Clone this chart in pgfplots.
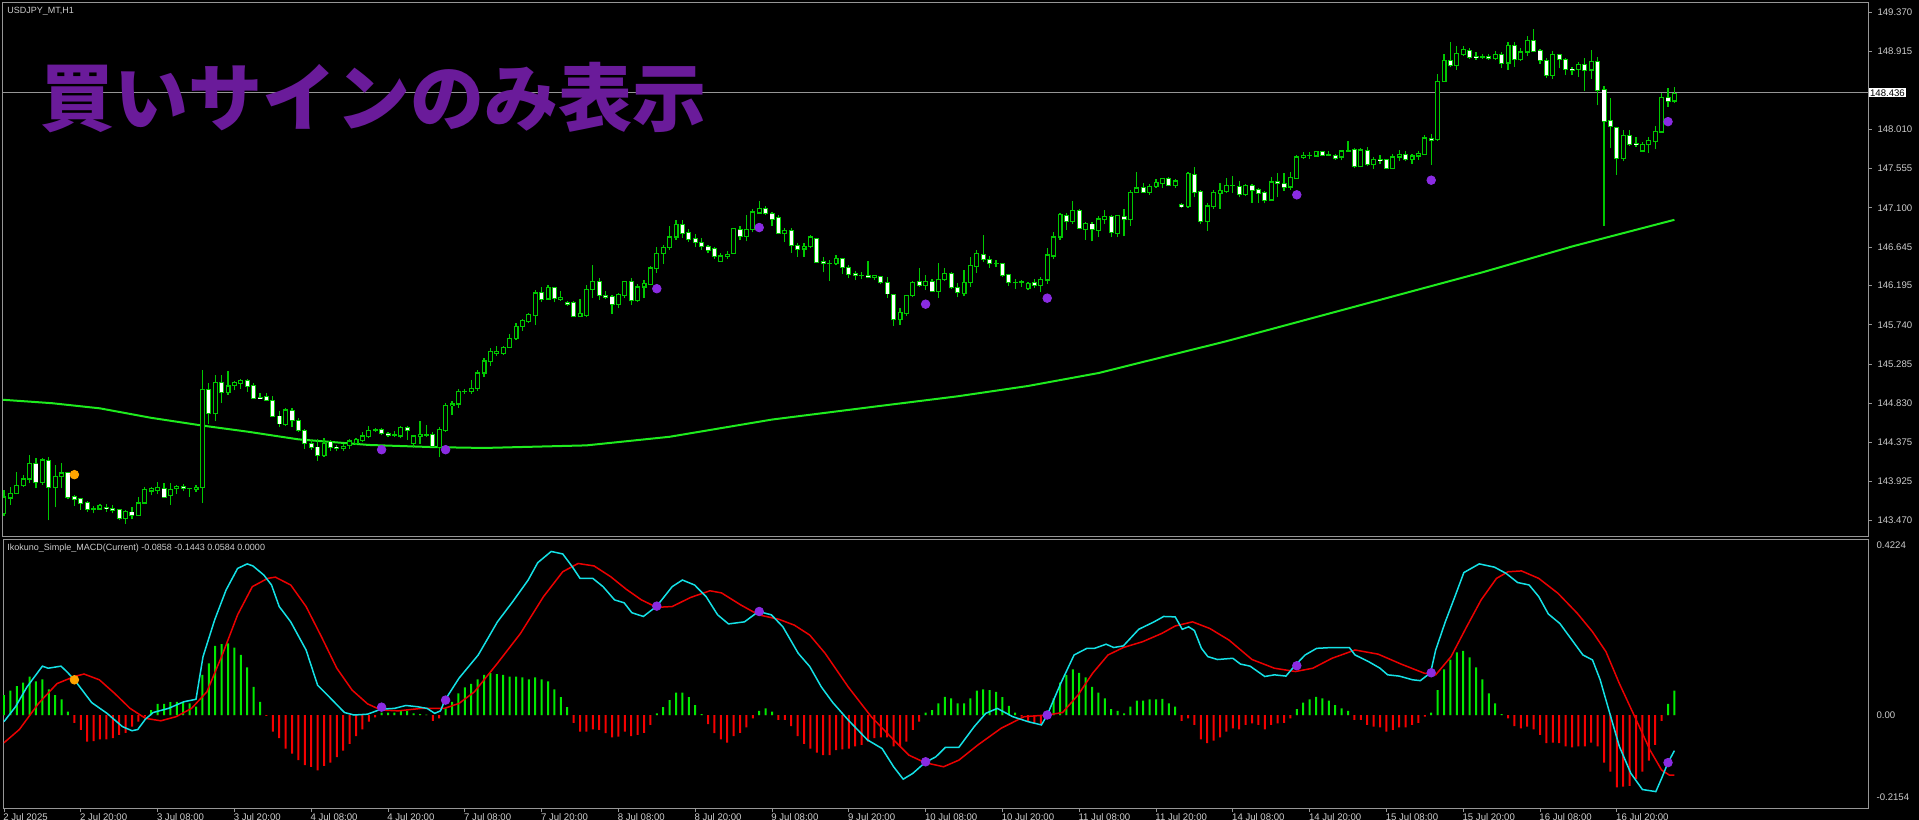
\documentclass[border=0pt]{standalone}
\usepackage{fontspec}
\usepackage{pgfplots}
\usepackage{pgfplotstable}
\pgfplotsset{compat=1.18}
\setmainfont{Liberation Sans}
\newfontfamily\cjk{Noto Sans CJK JP}

\definecolor{cgreen}{RGB}{0,200,0}
\definecolor{magreen}{RGB}{30,235,30}
\definecolor{hgreen}{RGB}{0,235,0}
\definecolor{hred}{RGB}{245,0,0}
\definecolor{mcyan}{RGB}{20,225,230}
\definecolor{sred}{RGB}{235,0,0}
\definecolor{sigpurple}{RGB}{138,43,226}
\definecolor{sigorange}{RGB}{255,165,0}
\definecolor{framegray}{RGB}{150,150,150}
\definecolor{labelgray}{RGB}{205,205,205}
\definecolor{titlepurple}{RGB}{106,27,154}

% USDJPY H1 candles, bar 0 = 2 Jul 08:00
\pgfplotstableread{
i o h l c
0 143.55 143.82 143.52 143.74
1 143.73 143.86 143.65 143.78
2 143.78 144.03 143.77 143.87
3 143.87 144.00 143.86 143.95
4 143.95 144.23 143.90 144.13
5 144.13 144.19 143.84 143.91
6 143.91 144.19 143.88 144.17
7 144.16 144.20 143.47 143.85
8 143.85 144.11 143.62 143.98
9 143.98 144.13 143.84 144.02
10 144.02 144.03 143.72 143.74
11 143.74 143.76 143.64 143.71
12 143.72 143.73 143.59 143.67
13 143.675 143.69 143.57 143.60
14 143.60 143.64 143.55 143.60
15 143.60 143.66 143.59 143.64
16 143.62 143.66 143.57 143.61
17 143.61 143.65 143.55 143.59
18 143.59 143.60 143.47 143.49
19 143.49 143.59 143.43 143.57
20 143.565 143.62 143.48 143.53
21 143.53 143.74 143.52 143.67
22 143.67 143.86 143.66 143.83
23 143.81 143.86 143.76 143.84
24 143.82 143.91 143.77 143.85
25 143.84 143.90 143.73 143.74
26 143.76 143.90 143.65 143.83
27 143.84 143.88 143.77 143.86
28 143.86 143.89 143.81 143.84
29 143.84 143.85 143.74 143.84
30 143.83 143.88 143.80 143.85
31 143.85 145.21 143.67 144.99
32 144.99 145.07 144.59 144.71
33 144.71 145.16 144.62 145.07
34 145.07 145.16 144.83 144.96
35 144.95 145.20 144.93 145.03
36 145.04 145.09 144.98 145.07
37 145.06 145.11 145.00 145.09
38 145.09 145.11 144.96 145.03
39 145.03 145.06 144.88 144.89
40 144.90 144.95 144.88 144.89
41 144.91 144.95 144.85 144.86
42 144.86 144.91 144.67 144.68
43 144.68 144.74 144.55 144.59
44 144.58 144.77 144.57 144.75
45 144.74 144.77 144.55 144.63
46 144.63 144.66 144.50 144.51
47 144.51 144.53 144.30 144.36
48 144.36 144.40 144.29 144.32
49 144.32 144.41 144.16 144.22
50 144.22 144.42 144.21 144.36
51 144.385 144.40 144.28 144.32
52 144.32 144.34 144.27 144.30
53 144.30 144.36 144.28 144.33
54 144.34 144.41 144.30 144.39
55 144.36 144.42 144.34 144.41
56 144.40 144.49 144.38 144.45
57 144.44 144.56 144.42 144.51
58 144.51 144.54 144.50 144.52
59 144.52 144.54 144.46 144.48
60 144.48 144.50 144.44 144.46
61 144.46 144.51 144.44 144.46
62 144.45 144.57 144.42 144.55
63 144.55 144.57 144.40 144.51
64 144.36 144.46 144.31 144.45
65 144.44 144.62 144.36 144.47
66 144.46 144.58 144.44 144.46
67 144.47 144.49 144.32 144.33
68 144.32 144.55 144.20 144.52
69 144.51 144.83 144.50 144.80
70 144.80 144.85 144.69 144.82
71 144.82 144.99 144.78 144.97
72 144.97 145.00 144.94 144.97
73 144.97 145.10 144.94 145.00
74 145.00 145.21 144.97 145.18
75 145.18 145.35 145.13 145.32
76 145.31 145.47 145.26 145.43
77 145.41 145.50 145.38 145.43
78 145.41 145.49 145.39 145.48
79 145.48 145.63 145.47 145.58
80 145.58 145.76 145.56 145.72
81 145.72 145.81 145.67 145.79
82 145.78 145.88 145.76 145.86
83 145.85 146.14 145.74 146.11
84 146.11 146.18 146.01 146.04
85 146.04 146.20 146.04 146.17
86 146.17 146.18 146.00 146.05
87 146.04 146.13 146.02 146.06
88 146.00 146.02 145.96 145.98
89 146.00 146.02 145.83 145.84
90 145.84 146.04 145.83 145.87
91 145.85 146.20 145.83 146.15
92 146.15 146.43 146.05 146.24
93 146.24 146.28 146.03 146.08
94 146.08 146.13 146.04 146.06
95 146.07 146.09 145.87 145.98
96 145.98 146.11 145.93 146.09
97 146.08 146.25 146.05 146.24
98 146.24 146.28 145.97 146.02
99 146.02 146.22 146.01 146.18
100 146.18 146.26 146.05 146.22
101 146.21 146.42 146.20 146.40
102 146.39 146.64 146.34 146.57
103 146.57 146.67 146.45 146.64
104 146.64 146.89 146.61 146.76
105 146.76 146.96 146.73 146.91
106 146.90 146.96 146.75 146.80
107 146.81 146.85 146.70 146.73
108 146.74 146.79 146.64 146.70
109 146.70 146.75 146.61 146.65
110 146.65 146.67 146.57 146.61
111 146.62 146.64 146.51 146.54
112 146.48 146.57 146.47 146.54
113 146.54 146.60 146.51 146.56
114 146.57 146.87 146.56 146.86
115 146.85 146.89 146.72 146.77
116 146.77 147.02 146.71 146.85
117 146.85 147.08 146.82 147.05
118 147.04 147.18 147.03 147.09
119 147.09 147.12 147.01 147.03
120 147.03 147.05 146.89 146.97
121 146.98 147.01 146.79 146.80
122 146.80 146.87 146.70 146.84
123 146.83 146.86 146.58 146.66
124 146.66 146.69 146.53 146.62
125 146.62 146.69 146.53 146.65
126 146.65 146.78 146.63 146.76
127 146.74 146.75 146.46 146.47
128 146.47 146.53 146.35 146.45
129 146.45 146.49 146.25 146.45
130 146.45 146.55 146.43 146.51
131 146.51 146.52 146.33 146.41
132 146.41 146.43 146.28 146.33
133 146.33 146.36 146.26 146.31
134 146.31 146.35 146.27 146.31
135 146.31 146.48 146.28 146.29
136 146.29 146.32 146.26 146.31
137 146.30 146.31 146.21 146.23
138 146.23 146.29 146.05 146.10
139 146.09 146.10 145.73 145.80
140 145.80 145.94 145.74 145.88
141 145.87 146.09 145.84 146.08
142 146.08 146.25 146.06 146.23
143 146.24 146.40 146.18 146.20
144 146.20 146.32 146.15 146.24
145 146.24 146.27 146.12 146.13
146 146.13 146.46 146.05 146.27
147 146.27 146.40 146.25 146.34
148 146.33 146.35 146.16 146.17
149 146.17 146.23 146.06 146.12
150 146.10 146.38 146.07 146.23
151 146.23 146.53 146.18 146.43
152 146.42 146.61 146.34 146.57
153 146.56 146.78 146.47 146.50
154 146.50 146.54 146.40 146.45
155 146.45 146.49 146.41 146.45
156 146.45 146.46 146.30 146.31
157 146.32 146.33 146.19 146.23
158 146.23 146.27 146.16 146.23
159 146.23 146.26 146.18 146.24
160 146.16 146.24 146.14 146.22
161 146.23 146.27 146.17 146.20
162 146.20 146.29 146.12 146.27
163 146.26 146.63 146.22 146.55
164 146.54 146.82 146.50 146.76
165 146.76 147.04 146.73 147.02
166 147.01 147.04 146.84 146.94
167 146.94 147.18 146.91 147.07
168 147.07 147.09 146.85 146.86
169 146.85 146.94 146.73 146.92
170 146.91 146.94 146.71 146.85
171 146.84 147.00 146.76 146.97
172 146.96 147.07 146.91 147.00
173 147.00 147.02 146.76 146.81
174 146.80 147.02 146.76 147.01
175 147.00 147.08 146.77 146.96
176 146.96 147.31 146.89 147.28
177 147.28 147.52 147.27 147.33
178 147.33 147.39 147.27 147.28
179 147.28 147.38 147.25 147.35
180 147.35 147.43 147.33 147.39
181 147.38 147.45 147.33 147.44
182 147.44 147.46 147.35 147.36
183 147.36 147.43 147.33 147.41
184 147.14 147.15 147.10 147.11
185 147.11 147.52 147.10 147.50
186 147.49 147.57 147.22 147.28
187 147.29 147.31 146.91 146.94
188 146.94 147.15 146.83 147.12
189 147.11 147.31 147.08 147.28
190 147.27 147.39 147.09 147.30
191 147.29 147.45 147.27 147.36
192 147.36 147.47 147.27 147.36
193 147.35 147.41 147.22 147.25
194 147.25 147.37 147.24 147.36
195 147.36 147.38 147.16 147.30
196 147.31 147.33 147.16 147.27
197 147.28 147.30 147.15 147.19
198 147.19 147.46 147.18 147.40
199 147.40 147.50 147.22 147.38
200 147.38 147.50 147.30 147.34
201 147.34 147.51 147.31 147.45
202 147.44 147.71 147.43 147.69
203 147.69 147.75 147.67 147.71
204 147.71 147.75 147.67 147.71
205 147.70 147.76 147.69 147.75
206 147.75 147.76 147.70 147.71
207 147.71 147.76 147.70 147.72
208 147.70 147.73 147.66 147.67
209 147.69 147.77 147.65 147.76
210 147.76 147.88 147.75 147.76
211 147.77 147.79 147.56 147.58
212 147.58 147.79 147.57 147.77
213 147.76 147.81 147.58 147.60
214 147.60 147.69 147.55 147.66
215 147.66 147.71 147.61 147.65
216 147.66 147.67 147.55 147.56
217 147.56 147.73 147.55 147.69
218 147.69 147.77 147.64 147.72
219 147.72 147.76 147.64 147.66
220 147.66 147.73 147.61 147.70
221 147.70 147.76 147.66 147.73
222 147.72 147.95 147.71 147.91
223 147.90 147.96 147.60 147.88
224 147.89 148.65 147.88 148.57
225 148.57 148.89 148.56 148.81
226 148.81 149.02 148.73 148.75
227 148.75 148.98 148.70 148.89
228 148.88 148.98 148.86 148.94
229 148.93 148.95 148.83 148.85
230 148.86 148.91 148.82 148.85
231 148.85 148.89 148.83 148.85
232 148.85 148.88 148.82 148.84
233 148.83 148.92 148.82 148.88
234 148.88 148.91 148.72 148.78
235 148.78 149.03 148.70 148.98
236 148.98 149.03 148.74 148.82
237 148.82 148.95 148.81 148.91
238 148.91 149.09 148.86 149.04
239 149.04 149.18 148.91 148.92
240 148.92 148.94 148.77 148.81
241 148.81 148.84 148.61 148.64
242 148.64 148.92 148.60 148.88
243 148.88 148.89 148.72 148.82
244 148.82 148.84 148.64 148.71
245 148.71 148.73 148.64 148.70
246 148.71 148.79 148.62 148.76
247 148.76 148.84 148.46 148.70
248 148.70 148.93 148.60 148.80
249 148.80 148.85 148.29 148.46
250 148.47 148.51 146.89 148.10
251 148.11 148.37 147.79 148.04
252 148.03 148.04 147.48 147.67
253 147.67 148.00 147.64 147.94
254 147.94 148.00 147.82 147.84
255 147.84 147.92 147.81 147.83
256 147.76 147.86 147.75 147.83
257 147.83 147.92 147.74 147.88
258 147.87 148.05 147.78 147.99
259 147.98 148.43 147.97 148.38
260 148.38 148.49 148.27 148.34
261 148.34 148.50 148.32 148.43
}\candles

% MACD histogram, one row per bar
\pgfplotstableread{
i v
0 0.048
1 0.059
2 0.070
3 0.078
4 0.093
5 0.081
6 0.086
7 0.062
8 0.048
9 0.038
10 0.008
11 -0.019
12 -0.036
13 -0.064
14 -0.063
15 -0.059
16 -0.059
17 -0.056
18 -0.048
19 -0.043
20 -0.028
21 -0.016
22 -0.004
23 0.012
24 0.027
25 0.027
26 0.031
27 0.032
28 0.032
29 0.028
30 0.020
31 0.097
32 0.125
33 0.167
34 0.171
35 0.173
36 0.163
37 0.145
38 0.115
39 0.068
40 0.032
41 -0.002
42 -0.040
43 -0.056
44 -0.081
45 -0.093
46 -0.109
47 -0.121
48 -0.125
49 -0.134
50 -0.123
51 -0.115
52 -0.102
53 -0.086
54 -0.070
55 -0.051
56 -0.035
57 -0.016
58 -0.006
59 0.006
60 0.006
61 0.006
62 0.010
63 0.010
64 0.004
65 0.002
66 0.001
67 -0.014
68 -0.008
69 0.016
70 0.032
71 0.052
72 0.067
73 0.075
74 0.086
75 0.097
76 0.101
77 0.099
78 0.097
79 0.093
80 0.093
81 0.091
82 0.086
83 0.091
84 0.086
85 0.081
86 0.062
87 0.043
88 0.019
89 -0.019
90 -0.040
91 -0.040
92 -0.035
93 -0.036
94 -0.044
95 -0.054
96 -0.052
97 -0.040
98 -0.051
99 -0.048
100 -0.043
101 -0.024
102 0.004
103 0.019
104 0.036
105 0.054
106 0.054
107 0.043
108 0.024
109 0.002
110 -0.022
111 -0.044
112 -0.059
113 -0.067
114 -0.051
115 -0.043
116 -0.030
117 -0.008
118 0.010
119 0.016
120 0.008
121 -0.012
122 -0.012
123 -0.027
124 -0.051
125 -0.070
126 -0.081
127 -0.091
128 -0.097
129 -0.097
130 -0.085
131 -0.083
132 -0.081
133 -0.076
134 -0.072
135 -0.064
136 -0.056
137 -0.054
138 -0.054
139 -0.076
140 -0.076
141 -0.064
142 -0.036
143 -0.016
144 0.006
145 0.012
146 0.028
147 0.044
148 0.040
149 0.028
150 0.028
151 0.040
152 0.059
153 0.062
154 0.060
155 0.056
156 0.043
157 0.022
158 0.006
159 -0.004
160 -0.016
161 -0.020
162 -0.022
163 0.008
164 0.040
165 0.078
166 0.097
167 0.110
168 0.102
169 0.091
170 0.068
171 0.054
172 0.040
173 0.014
174 0.010
175 0.004
176 0.020
177 0.035
178 0.035
179 0.038
180 0.038
181 0.039
182 0.028
183 0.020
184 -0.014
185 -0.008
186 -0.024
187 -0.059
188 -0.068
189 -0.062
190 -0.054
191 -0.040
192 -0.032
193 -0.035
194 -0.024
195 -0.020
196 -0.024
197 -0.035
198 -0.024
199 -0.020
200 -0.019
201 -0.008
202 0.014
203 0.030
204 0.038
205 0.044
206 0.040
207 0.035
208 0.024
209 0.016
210 0.010
211 -0.012
212 -0.012
213 -0.024
214 -0.028
215 -0.030
216 -0.040
217 -0.036
218 -0.030
219 -0.030
220 -0.024
221 -0.019
222 -0.004
223 0.006
224 0.060
225 0.110
226 0.134
227 0.151
228 0.155
229 0.139
230 0.115
231 0.086
232 0.052
233 0.028
234 0.002
235 -0.008
236 -0.027
237 -0.032
238 -0.028
239 -0.035
240 -0.048
241 -0.068
242 -0.067
243 -0.068
244 -0.076
245 -0.078
246 -0.076
247 -0.076
248 -0.067
249 -0.076
250 -0.115
251 -0.137
252 -0.175
253 -0.173
254 -0.171
255 -0.155
256 -0.137
257 -0.110
258 -0.072
259 -0.014
260 0.027
261 0.059
}\macdhist

% 1 screen pixel = 0.5bp
\pgfplotsset{
  mtpanel/.style={
    scale only axis, width=932.5bp, anchor=south west,
    xmin=-0.156, xmax=291.25,
    axis background/.style={fill=black},
    axis line style={framegray, line width=0.5bp},
    clip mode=individual,
    tick label style={font=\fontsize{4.8bp}{5bp}\selectfont, text=labelgray},
    tick style={framegray, line width=0.4bp},
    tick align=outside,
    major tick length=1.75bp,
  },
  candle/.style={draw=none, mark=none, forget plot,
    error bars/.cd, y dir=plus, y explicit, error mark=none,
    error bar style={#1}},
}

\begin{document}
\begin{tikzpicture}
\fill[black] (0,0) rectangle (959.5bp,410bp);

% ---------------- price panel ----------------
\begin{axis}[mtpanel, at={(1.5bp,141.5bp)}, height=267bp,
  ymin=143.276, ymax=149.478,
  xtick=\empty,
  ytick pos=right, yticklabel pos=right,
  ytick={143.470,143.925,144.375,144.830,145.285,145.740,146.195,146.645,147.100,147.555,148.010,148.915,149.370},
  yticklabels={143.470,143.925,144.375,144.830,145.285,145.740,146.195,146.645,147.100,147.555,148.010,148.915,149.370},
  yticklabel style={anchor=west, xshift=-0.5bp},
]
% moving average
\addplot[magreen, line width=1bp] coordinates {
(-0.2,144.87) (7.5,144.83) (15,144.77) (23,144.66) (31,144.57) (38,144.50)
(46,144.41) (57,144.345) (67,144.32) (75,144.31) (91,144.34) (104,144.44)
(120,144.64) (136,144.79) (149,144.91) (160,145.03) (171,145.18) (191,145.55)
(209,145.91) (224,146.21) (231,146.35) (245,146.65) (261,146.96)};
% current price line
\addplot[framegray, line width=0.45bp] coordinates {(-1,148.436) (292,148.436)};
% wicks
\addplot[candle={draw=cgreen, line width=0.6bp}]
  table[x=i, y=l, y error plus expr=\thisrow{h}-\thisrow{l}] {\candles};
% body outline
\addplot[candle={draw=cgreen, line width=2.5bp}]
  table[x=i, y expr={min(\thisrow{o},\thisrow{c})-0.007},
        y error plus expr={abs(\thisrow{c}-\thisrow{o})+0.014}] {\candles};
% rising bodies: hollow
\addplot[candle={draw=black, line width=1.4bp}]
  table[x=i, y expr={\thisrow{o}+0.007},
        y error plus expr={max(0,\thisrow{c}-\thisrow{o}-0.014)}] {\candles};
% falling bodies: white
\addplot[candle={draw=white, line width=1.6bp}]
  table[x=i, y expr={\thisrow{c}+0.004},
        y error plus expr={max(0,\thisrow{o}-\thisrow{c}-0.008)}] {\candles};
% signals
\addplot[only marks, mark=*, mark size=2.15bp, sigpurple, mark options={draw=none, fill=sigpurple}] coordinates {
(59,144.29) (69,144.29) (102,146.16) (118,146.87) (144,145.98) (163,146.05) (202,147.25) (223,147.42) (260,148.10)};
\addplot[only marks, mark=*, mark size=2.15bp, sigorange, mark options={draw=none, fill=sigorange}] coordinates {(11,144.00)};

\node[anchor=north west, inner sep=0pt, font=\fontsize{4.5bp}{5bp}\selectfont, text=labelgray]
  at (rel axis cs:0,1) [xshift=2bp, yshift=-2bp] {USDJPY\_MT,H1};
\node[anchor=west, fill=white, text=black, inner sep=0.6bp, font=\fontsize{4.8bp}{5bp}\selectfont]
  at (axis cs:291.25,148.436) [xshift=0.25bp] {148.436};
\end{axis}

% ---------------- MACD panel ----------------
\begin{axis}[mtpanel, at={(1.5bp,6bp)}, height=134bp,
  ymin=-0.2246, ymax=0.4227,
  xtick={0,12,...,252},
  xticklabels={2 Jul 2025,2 Jul 20:00,3 Jul 08:00,3 Jul 20:00,4 Jul 08:00,4 Jul 20:00,7 Jul 08:00,7 Jul 20:00,8 Jul 08:00,8 Jul 20:00,9 Jul 08:00,9 Jul 20:00,10 Jul 08:00,10 Jul 20:00,11 Jul 08:00,11 Jul 20:00,14 Jul 08:00,14 Jul 20:00,15 Jul 08:00,15 Jul 20:00,16 Jul 08:00,16 Jul 20:00},
  xtick pos=bottom,
  xticklabel style={anchor=north west, inner sep=0pt, yshift=-0.75bp, xshift=-0.5bp},
  ytick pos=right, yticklabel pos=right,
  ytick={-0.198,0,0.4106},
  yticklabels={-0.2154,0.00,0.4224},
  ytick style={draw=none},
  yticklabel style={anchor=west, xshift=-1bp},
]
\addplot[ybar, bar width=1bp, bar shift=0pt, fill=hgreen, draw=none, forget plot]
  table[x=i, y expr={max(\thisrow{v},0)}] {\macdhist};
\addplot[ybar, bar width=1bp, bar shift=0pt, fill=hred, draw=none, forget plot]
  table[x=i, y expr={min(\thisrow{v},0)}] {\macdhist};
% signal line
\addplot[sred, line width=0.75bp] coordinates {
(0,-0.067) (2.4,-0.035) (5.4,0.028) (8.3,0.076) (11,0.093) (12.5,0.099) (14.9,0.085) (17.3,0.052)
(19.7,0.016) (22.1,-0.008) (24.5,-0.014) (26.9,-0.004) (29.3,0.016) (31.7,0.056) (34.1,0.145)
(36.5,0.242) (38.8,0.310) (41.2,0.330) (42.4,0.333) (44.8,0.314) (47.2,0.262) (49.6,0.189)
(52,0.113) (54.4,0.060) (56.8,0.027) (58.9,0.012) (61.6,0.010) (65.2,0.016) (68.8,0.016)
(71.1,0.028) (73.5,0.056) (77.1,0.125) (80.7,0.197) (84.3,0.286) (87.3,0.346) (89.7,0.366)
(92.2,0.360) (94.8,0.334) (97.2,0.304) (99.6,0.278) (102,0.260) (104.4,0.262) (107.3,0.284)
(110.3,0.300) (112.1,0.295) (115.1,0.266) (117.9,0.242) (121.1,0.231) (123.5,0.217)
(125.9,0.193) (128.3,0.149) (131.9,0.068) (135.5,-0.004) (139,-0.060) (141.4,-0.097)
(143.9,-0.115) (146.8,-0.125) (149.2,-0.109) (152.2,-0.072) (155.8,-0.032) (159.4,-0.004)
(163,0) (165.4,0.006) (167.8,0.048) (170.1,0.101) (172.5,0.145) (174.9,0.163) (177.9,0.177)
(180.9,0.197) (183,0.215) (185.7,0.225) (188.4,0.209) (191.4,0.181) (195,0.134) (198.5,0.113)
(201.8,0.105) (204.5,0.113) (207.5,0.137) (211.1,0.157) (214.7,0.147) (218.3,0.123)
(221.9,0.101) (223.7,0.097) (226.1,0.141) (228.5,0.212) (230.8,0.278) (233.2,0.330)
(235,0.346) (237.1,0.348) (239.8,0.330) (242.8,0.294) (245.8,0.246) (248.2,0.201)
(250.3,0.153) (252.4,0.076) (254.8,-0.004) (257.2,-0.085) (259,-0.133) (260.2,-0.145) (261,-0.145)};
% MACD line
\addplot[mcyan, line width=0.75bp] coordinates {
(0,-0.016) (1.8,0.020) (3.6,0.068) (4.8,0.093) (6,0.118) (6.9,0.113) (8.9,0.118) (9.8,0.105)
(11,0.085) (13.7,0.030) (16.1,0.004) (18.5,-0.028) (20,-0.038) (20.9,-0.035) (22.1,-0.010)
(23.3,0.006) (25.7,0.016) (28.1,0.032) (30,0.038) (30.5,0.085) (31.1,0.141) (32.9,0.229)
(34.7,0.302) (36.5,0.354) (38,0.365) (38.9,0.360) (40.6,0.338) (41.8,0.314) (43,0.262)
(44.8,0.225) (47.2,0.157) (49,0.072) (50.8,0.044) (53.2,0.006) (54.7,0) (56.8,0.002)
(58.9,0.014) (61,0.016) (62.8,0.023) (64.6,0.020) (66.1,0.016) (67.3,0.004) (68.2,0.010)
(68.9,0.036) (71.1,0.089) (74.1,0.145) (77.1,0.225) (79.5,0.274) (81.9,0.326) (83.4,0.368)
(85.5,0.395) (87.3,0.389) (88.8,0.358) (90,0.330) (92,0.330) (93.6,0.310) (95.4,0.278)
(96.9,0.271) (98.1,0.247) (99.9,0.238) (102,0.263) (104.4,0.310) (106,0.326) (107.9,0.314)
(109.7,0.286) (111.5,0.242) (113.2,0.220) (115.7,0.225) (117.9,0.250) (119.9,0.242)
(121.7,0.213) (124.1,0.149) (125.9,0.117) (127.7,0.068) (129.5,0.030) (131.9,-0.012)
(134.9,-0.060) (137.2,-0.081) (139,-0.125) (140.5,-0.155) (142,-0.141) (143.9,-0.115)
(145.6,-0.101) (147.1,-0.078) (149.2,-0.078) (151.6,-0.028) (153.4,0.004) (155.2,0.016)
(157.6,-0.004) (160,-0.016) (162.1,-0.024) (163,0) (165.1,0.076) (167.2,0.145) (169.2,0.161)
(170.4,0.161) (172.2,0.171) (173.4,0.163) (174.9,0.167) (177.3,0.207) (179.7,0.225)
(181.2,0.238) (183,0.237) (184.1,0.207) (185.1,0.213) (186,0.204) (187.1,0.161) (188.1,0.141)
(189.6,0.134) (192,0.137) (193.2,0.123) (194.7,0.118) (197,0.093) (198.5,0.097) (200.3,0.094)
(201.8,0.121) (203.3,0.145) (205.1,0.161) (207.5,0.163) (210.2,0.163) (211.1,0.145)
(213.2,0.129) (215,0.113) (216.2,0.097) (218,0.094) (220.1,0.085) (221.3,0.083) (222.9,0.102)
(223.7,0.157) (225.2,0.225) (226.7,0.286) (228.1,0.344) (230.5,0.365) (232.9,0.357)
(234.7,0.342) (236.5,0.320) (238.3,0.314) (239.8,0.286) (241.3,0.244) (243.1,0.221)
(244.9,0.183) (246.7,0.145) (248.2,0.133) (249.4,0.085) (250.9,0.004) (252.4,-0.076)
(254.2,-0.141) (256,-0.180) (258.1,-0.185) (259,-0.153) (260,-0.115) (261,-0.086)};
\addplot[only marks, mark=*, mark size=2.15bp, sigpurple, mark options={draw=none, fill=sigpurple}] coordinates {
(59,0.019) (69,0.036) (102,0.263) (118,0.250) (144,-0.113) (163,0.0) (202,0.119) (223,0.102) (260,-0.115)};
\addplot[only marks, mark=*, mark size=2.15bp, sigorange, mark options={draw=none, fill=sigorange}] coordinates {(11,0.085)};

\node[anchor=north west, inner sep=0pt, font=\fontsize{4.5bp}{5bp}\selectfont, text=labelgray]
  at (rel axis cs:0,1) [xshift=2bp, yshift=-1.75bp] {Ikokuno\_Simple\_MACD(Current) -0.0858 -0.1443 0.0584 0.0000};
\end{axis}

% overlay caption
\node[font=\cjk\bfseries\fontsize{37bp}{40bp}\selectfont, text=titlepurple, inner sep=0pt]
  at (186.75bp,361.25bp) {買いサインのみ表示};

\pgfresetboundingbox
\path (0,0) rectangle (959.5bp,410bp);
\end{tikzpicture}
\end{document}
